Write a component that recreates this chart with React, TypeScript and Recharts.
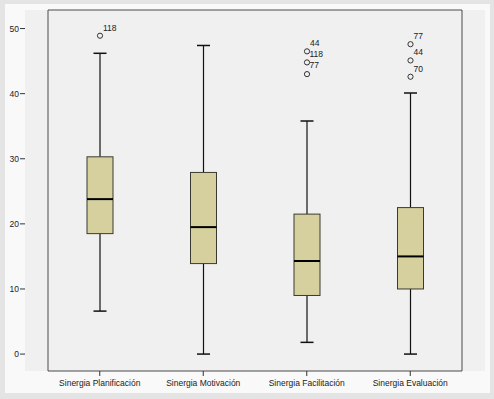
import { ComposedChart, Bar, XAxis, YAxis, CartesianGrid, ReferenceArea } from "recharts";

const CATEGORIES = [
  "Sinergia Planificación",
  "Sinergia Motivación",
  "Sinergia Facilitación",
  "Sinergia Evaluación",
];
const MINS = [6.6, 0, 1.8, 0];
const Q1S = [18.5, 13.9, 9.0, 10.0];
const MEDIANS = [23.8, 19.5, 14.3, 15.0];
const Q3S = [30.3, 27.9, 21.5, 22.5];
const MAXS = [46.2, 47.4, 35.8, 40.1];
const OUTLIERS: number[][] = [[48.9], [], [46.5, 44.8, 43.0], [47.6, 45.1, 42.6]];
const OUTLIER_LABELS: string[][][] = [
  [["118"]],
  [],
  [["44", "118"], ["77"], []],
  [["77"], ["44"], ["70"]],
];
const Y_TICKS = [0, 10, 20, 30, 40, 50];
const Y_DOMAIN: [number, number] = [-2.6, 52.85];

const data = CATEGORIES.map((name, i) => ({
  name,
  min: MINS[i],
  q1: Q1S[i],
  median: MEDIANS[i],
  q3: Q3S[i],
  max: MAXS[i],
  outliers: OUTLIERS[i],
  labels: OUTLIER_LABELS[i],
}));

const FONT = "'Liberation Sans', Arial, sans-serif";

function BoxShape(props: any) {
  const { x, y, width, height, payload } = props;
  const top = Math.min(y, y + height);
  const h = Math.abs(height);
  const { min, max } = payload;
  // map a value to pixels using the bar's own [min, max] span
  const py = (v: number) => top + ((max - v) / (max - min)) * h;
  const cx = x + width / 2;
  const cap = 6.5;
  return (
    <g>
      <line x1={cx} x2={cx} y1={py(max)} y2={py(payload.q3)} stroke="#111" strokeWidth={1.2} />
      <line x1={cx} x2={cx} y1={py(payload.q1)} y2={py(min)} stroke="#111" strokeWidth={1.2} />
      <line x1={cx - cap} x2={cx + cap} y1={py(max)} y2={py(max)} stroke="#111" strokeWidth={1.5} />
      <line x1={cx - cap} x2={cx + cap} y1={py(min)} y2={py(min)} stroke="#111" strokeWidth={1.5} />
      <rect
        x={x}
        y={py(payload.q3)}
        width={width}
        height={py(payload.q1) - py(payload.q3)}
        fill="#d6d09f"
        stroke="#3a3a30"
        strokeWidth={1}
      />
      <line
        x1={x}
        x2={x + width}
        y1={py(payload.median)}
        y2={py(payload.median)}
        stroke="#000"
        strokeWidth={2}
      />
      {payload.outliers.map((v: number, k: number) => {
        const oy = py(v);
        const labels: string[] = payload.labels[k] || [];
        const stacked = payload.outliers.length === 3 && payload.labels[2].length === 0;
        return (
          <g key={k}>
            <circle cx={cx} cy={oy} r={2.6} fill="none" stroke="#333" strokeWidth={1} />
            {labels.map((t, j) => {
              const side = stacked && !(k === 0 && j === 0);
              return (
                <text
                  key={j}
                  x={cx + (side ? 2.5 : 3)}
                  y={side ? oy + 6 : oy - 5}
                  fontSize={8.5}
                  fontFamily={FONT}
                  fill="#222"
                >
                  {t}
                </text>
              );
            })}
          </g>
        );
      })}
    </g>
  );
}

export default function App() {
  return (
    <div style={{ position: "relative", width: 494, height: 399, background: "#e4e4e4" }}>
      <style>{"body{margin:0}"}</style>
      <div
        style={{
          position: "absolute",
          left: 5,
          top: 4,
          width: 485,
          height: 389,
          background: "#f9f9f9",
        }}
      />
      <div style={{ position: "absolute", left: 0, top: 0 }}>
        <ComposedChart
          width={494}
          height={399}
          data={data}
          margin={{ top: 10, right: 9, bottom: 0, left: 0 }}
        >
          <CartesianGrid horizontal={false} vertical={false} fill="#f0f0f0" />
          <XAxis
            dataKey="name"
            type="category"
            height={28}
            padding={{ left: 23, right: 23 }}
            axisLine={false}
            tickLine={{ stroke: "#333" }}
            tickSize={5}
            tickMargin={4}
            interval={0}
            tick={{ fontSize: 8.5, fill: "#222", fontFamily: FONT }}
          />
          <YAxis
            type="number"
            width={25}
            domain={Y_DOMAIN}
            ticks={Y_TICKS}
            allowDataOverflow
            axisLine={false}
            tickLine={{ stroke: "#333" }}
            tickSize={5}
            tickMargin={1}
            tick={{ fontSize: 8.5, fill: "#222", fontFamily: FONT }}
          />
          <Bar
            dataKey={(d: any) => [d.min, d.max]}
            barSize={26}
            shape={BoxShape}
            isAnimationActive={false}
          />
          <ReferenceArea
            y1={Y_DOMAIN[0]}
            y2={Y_DOMAIN[1]}
            fill="none"
            stroke="#4a4a4a"
            strokeWidth={1}
            ifOverflow="visible"
          />
        </ComposedChart>
      </div>
    </div>
  );
}
